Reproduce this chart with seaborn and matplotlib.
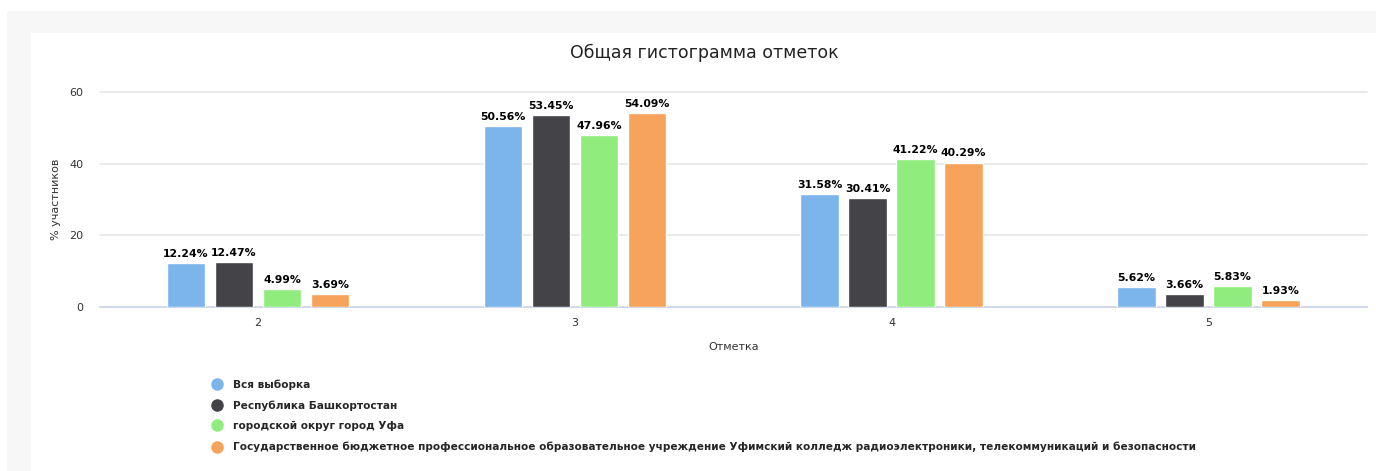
import matplotlib
matplotlib.use("Agg")
import matplotlib.pyplot as plt
import seaborn as sns
import pandas as pd
from matplotlib.patches import Rectangle
from matplotlib.lines import Line2D

categories = ["2", "3", "4", "5"]
series_names = [
    "Вся выборка",
    "Республика Башкортостан",
    "городской округ город Уфа",
    "Государственное бюджетное профессиональное образовательное учреждение Уфимский колледж радиоэлектроники, телекоммуникаций и безопасности",
]
vals_all = [12.24, 50.56, 31.58, 5.62]
vals_rb = [12.47, 53.45, 30.41, 3.66]
vals_ufa = [4.99, 47.96, 41.22, 5.83]
vals_college = [3.69, 54.09, 40.29, 1.93]
colors = ["#7cb5ec", "#434348", "#90ed7d", "#f7a35c"]

rows = []
for name, vals in zip(series_names, [vals_all, vals_rb, vals_ufa, vals_college]):
    for c, v in zip(categories, vals):
        rows.append({"Отметка": c, "value": v, "series": name})
df = pd.DataFrame(rows)

sns.set_theme(style="white")
plt.rcParams["font.family"] = ["DejaVu Sans"]

W, H = 1376, 471
fig = plt.figure(figsize=(W / 100, H / 100), dpi=100)
fig.patch.set_facecolor("white")
# outer light-gray frame and white panel
fig.patches.append(Rectangle((7 / W, 0), 1 - 7 / W, 1 - 11 / H, transform=fig.transFigure,
                             facecolor="#f7f7f7", edgecolor="none", zorder=-10))
fig.patches.append(Rectangle((31 / W, 0), 1 - 31 / W, 1 - 33 / H, transform=fig.transFigure,
                             facecolor="white", edgecolor="none", zorder=-9))

left, right = 99.5 / W, 1367 / W
bottom, top = 1 - 307 / H, 1 - 92 / H
ax = fig.add_axes([left, bottom, right - left, top - bottom])
ax.set_zorder(5)
ax.set_facecolor("none")

sns.barplot(data=df, x="Отметка", y="value", hue="series", hue_order=series_names,
            order=categories, palette=colors, saturation=1, width=0.606, gap=0.2, ax=ax,
            edgecolor="white", linewidth=1, legend=False, errorbar=None, zorder=3)

for cont in ax.containers:
    ax.bar_label(cont, labels=[f"{v:.2f}%" for v in cont.datavalues], padding=3,
                 fontsize=7.8, fontweight="bold", color="#000000")

ax.set_ylim(0, 60)
ax.set_xlim(-0.5, 3.5)
ax.set_yticks([0, 20, 40, 60])
ax.yaxis.grid(True, color="#e6e6e6", linewidth=1.2, zorder=0)
for gl in ax.yaxis.get_gridlines():
    gl.set_clip_on(False)
ax.set_axisbelow(True)
for s in ["left", "right", "top"]:
    ax.spines[s].set_visible(False)
ax.spines["bottom"].set_color("#ccd6eb")
ax.spines["bottom"].set_linewidth(1.2)
ax.tick_params(axis="both", length=0, labelsize=8, colors="#333333")
ax.tick_params(axis="y", pad=11.5)
ax.tick_params(axis="x", pad=8)
ax.set_xlabel("Отметка", fontsize=8, color="#333333", labelpad=10)
ax.set_ylabel("% участников", fontsize=8, color="#333333", labelpad=6)

fig.text(0.512, 1 - 53 / H, "Общая гистограмма отметок", ha="center", va="center",
         fontsize=12.5, color="#222222")

handles = [Line2D([0], [0], marker="o", linestyle="none", markersize=8,
                  markerfacecolor=c, markeredgecolor=c) for c in colors]
fig.legend(handles, series_names, loc="upper left", bbox_to_anchor=(212 / W, 1 - 379 / H),
           frameon=False, prop={"size": 7.6, "weight": "bold"}, handletextpad=0.95,
           labelspacing=1.0, handlelength=1.0, borderaxespad=0, borderpad=0)

fig.savefig("out.png", dpi=100)
